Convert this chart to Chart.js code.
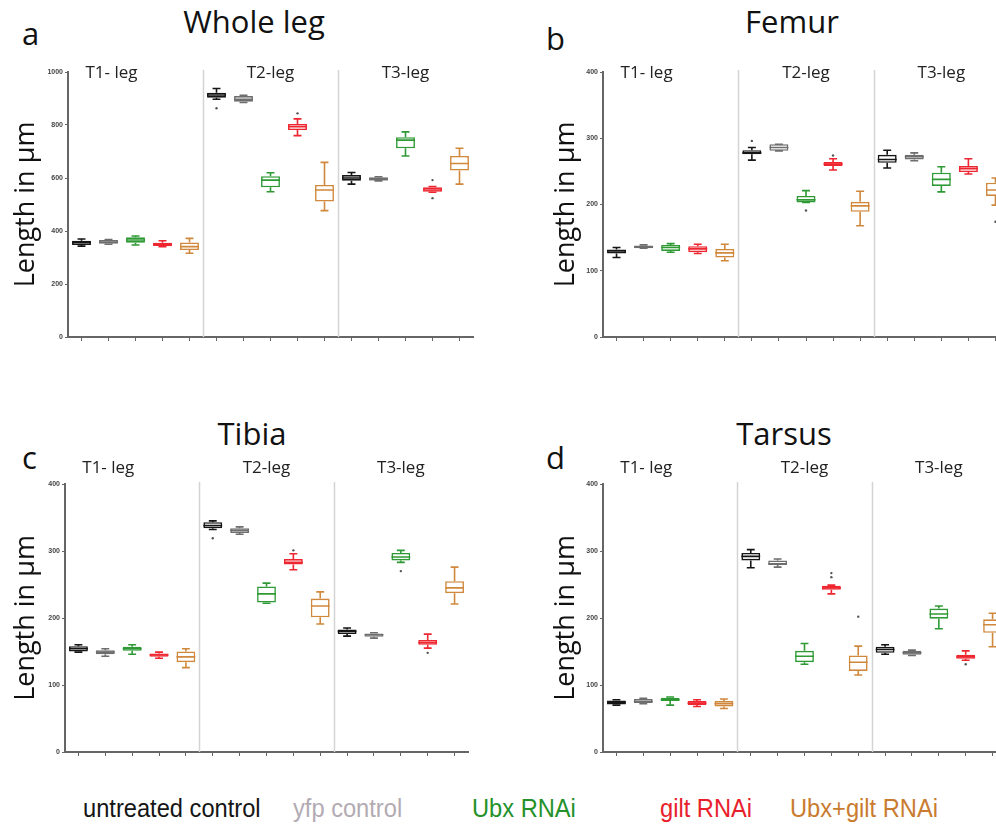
<!DOCTYPE html>
<html>
<head>
<meta charset="utf-8">
<script src="https://cdn.jsdelivr.net/npm/chart.js@4.4.1/dist/chart.umd.min.js"></script>
<style>
  html, body { margin: 0; padding: 0; background: #fff; }
  body { width: 996px; height: 825px; overflow: hidden; position: relative; font-family: "Open Sans", sans-serif; }
  canvas { position: absolute; }
  .title { position: absolute; font-size: 31px; line-height: 31px; color: #111; white-space: nowrap; transform: translateX(-50%); }
  .letter { position: absolute; font-size: 31px; line-height: 31px; color: #111; }
  .legend { position: absolute; top: 793px; font-family: "Liberation Sans", sans-serif; font-size: 26px; line-height: 30px; white-space: nowrap; transform: scaleX(0.91); transform-origin: left center; }
</style>
</head>
<body>
<div class="letter" style="left:22px;top:18px">a</div>
<div class="title" style="left:254px;top:6px">Whole leg</div>
<div class="letter" style="left:546px;top:23px">b</div>
<div class="title" style="left:792px;top:6px">Femur</div>
<div class="letter" style="left:22px;top:442px">c</div>
<div class="title" style="left:252px;top:418px">Tibia</div>
<div class="letter" style="left:546px;top:442px">d</div>
<div class="title" style="left:784px;top:418px">Tarsus</div>

<canvas id="wholeChart" width="490" height="325" style="left:0px;top:32px"></canvas>
<canvas id="femurChart" width="486" height="325" style="left:540px;top:32px"></canvas>
<canvas id="tibiaChart" width="485" height="328" style="left:0px;top:444px"></canvas>
<canvas id="tarsusChart" width="483" height="328" style="left:540px;top:444px"></canvas>

<div class="legend" style="left:83px;color:#151515">untreated control</div>
<div class="legend" style="left:293px;color:#b3abb3">yfp control</div>
<div class="legend" style="left:472px;color:#24912a">Ubx RNAi</div>
<div class="legend" style="left:660px;color:#e8202c">gilt RNAi</div>
<div class="legend" style="left:790px;color:#c97b30">Ubx+gilt RNAi</div>

<script>
// categories
const legs = ["T1- leg", "T2-leg", "T3-leg"];
const conditions = ["untreated control", "yfp control", "Ubx RNAi", "gilt RNAi", "Ubx+gilt RNAi"];
const conditionColors = ["#151515", "#6e6e6e", "#2f9a35", "#ee2630", "#d0883c"];

// each row: [min, q1, median, q3, max], order T1 x5, T2 x5, T3 x5
const wholeBoxes = [
  [343, 347, 356, 363, 370], [350, 352, 358, 366, 368], [347, 356, 366, 376, 381], [341, 343, 350, 356, 363], [316, 328, 341, 357, 372],
  [897, 903, 913, 922, 938], [885, 888, 897, 909, 912], [548, 565, 592, 607, 620], [760, 781, 794, 804, 823], [477, 511, 555, 574, 659],
  [577, 590, 600, 611, 621], [589, 591, 595, 603, 605], [683, 712, 743, 754, 774], [546, 548, 555, 565, 568], [577, 628, 655, 683, 712]
];
const wholeOutliers = [[], [], [], [], [], [863], [], [], [844], [], [], [], [], [592, 524], []];

const femurBoxes = [
  [120, 126, 130, 132, 135], [134, 134, 136, 138, 139], [128, 130, 135, 139, 141], [126, 128, 133, 137, 140], [115, 120, 127, 133, 140],
  [267, 276, 278, 282, 286], [281, 281, 286, 291, 291], [203, 203, 207, 213, 221], [252, 258, 261, 264, 269], [168, 189, 198, 204, 220],
  [255, 263, 268, 275, 282], [266, 268, 272, 275, 278], [219, 228, 238, 248, 257], [246, 249, 254, 258, 269], [199, 213, 222, 233, 240]
];
const femurOutliers = [[], [], [], [], [], [296], [], [191], [274], [], [], [], [], [], [174]];

const tibiaBoxes = [
  [149, 150, 154, 158, 160], [143, 146, 149, 152, 154], [146, 151, 154, 157, 160], [140, 142, 145, 147, 149], [126, 134, 142, 150, 154],
  [332, 334, 338, 343, 345], [325, 327, 331, 334, 336], [222, 223, 236, 247, 252], [272, 280, 283, 288, 296], [191, 201, 218, 229, 239],
  [173, 176, 180, 183, 185], [170, 172, 175, 177, 178], [283, 286, 291, 297, 301], [155, 160, 163, 167, 176], [221, 237, 245, 255, 276]
];
const tibiaOutliers = [[], [], [], [], [], [319], [], [], [301], [], [], [], [270], [148], []];

const tarsusBoxes = [
  [70, 71, 74, 77, 78], [72, 73, 75, 79, 80], [70, 76, 78, 81, 82], [68, 70, 73, 76, 78], [65, 68, 72, 76, 79],
  [275, 286, 292, 297, 302], [276, 279, 281, 286, 288], [131, 134, 143, 151, 162], [236, 242, 245, 248, 249], [115, 121, 134, 144, 158],
  [146, 148, 153, 157, 160], [144, 145, 148, 151, 152], [184, 199, 206, 214, 218], [137, 139, 142, 145, 151], [157, 178, 190, 198, 207]
];
const tarsusOutliers = [[], [], [], [], [], [], [], [], [261, 267], [202], [], [], [], [131], []];

// one label per box
const boxLabels = [];
legs.forEach(leg => conditions.forEach(c => boxLabels.push(leg + " " + c)));

// whiskers, medians, outliers, leg dividers and leg names
const boxExtras = {
  id: "boxExtras",
  beforeDatasetsDraw(chart, args, opts) {
    const { ctx, chartArea, scales: { x } } = chart;
    ctx.save();
    ctx.strokeStyle = "#d4d4d4";
    ctx.lineWidth = 1.5;
    [4, 9].forEach(i => {
      const xp = Math.round((x.getPixelForValue(i) + x.getPixelForValue(i + 1)) / 2) + 0.5;
      ctx.beginPath();
      ctx.moveTo(xp, chartArea.top - 2);
      ctx.lineTo(xp, chartArea.bottom);
      ctx.stroke();
    });
    ctx.restore();
  },
  afterDatasetsDraw(chart, args, opts) {
    const { ctx, chartArea, scales: { x, y } } = chart;
    const meta = chart.getDatasetMeta(0);
    ctx.save();
    opts.boxes.forEach((b, i) => {
      const color = conditionColors[i % 5];
      const xp = x.getPixelForValue(i);
      const w = meta.data[i].width;
      const cap = w * 0.42;
      ctx.strokeStyle = color;
      ctx.lineWidth = 1.6;
      ctx.beginPath();
      // whiskers
      ctx.moveTo(xp, y.getPixelForValue(b[3]));
      ctx.lineTo(xp, y.getPixelForValue(b[4]));
      ctx.moveTo(xp, y.getPixelForValue(b[1]));
      ctx.lineTo(xp, y.getPixelForValue(b[0]));
      // caps
      ctx.moveTo(xp - cap / 2, y.getPixelForValue(b[4]));
      ctx.lineTo(xp + cap / 2, y.getPixelForValue(b[4]));
      ctx.moveTo(xp - cap / 2, y.getPixelForValue(b[0]));
      ctx.lineTo(xp + cap / 2, y.getPixelForValue(b[0]));
      // median
      ctx.moveTo(xp - w / 2, y.getPixelForValue(b[2]));
      ctx.lineTo(xp + w / 2, y.getPixelForValue(b[2]));
      ctx.stroke();
      // outliers
      ctx.fillStyle = "#555";
      opts.outliers[i].forEach(v => {
        ctx.beginPath();
        ctx.arc(xp, y.getPixelForValue(v), 1.2, 0, Math.PI * 2);
        ctx.fill();
      });
    });
    // leg names
    ctx.fillStyle = "#222";
    ctx.font = "17px 'Open Sans'";
    ctx.textAlign = "center";
    ctx.textBaseline = "middle";
    [1, 7, 12].forEach((idx, k) => {
      ctx.fillText(legs[k], x.getPixelForValue(idx) + (k === 0 ? 3 : 0), chartArea.top + opts.labelOffset);
    });
    ctx.restore();
  }
};

function makePanel(id, boxes, outliers, yMax, yStep, yWidth, labelOffset) {
  const ctx = document.getElementById(id).getContext("2d");
  return new Chart(ctx, {
    type: "bar",
    data: {
      labels: boxLabels,
      datasets: [{
        data: boxes.map(b => [b[1], b[3]]),
        backgroundColor: "rgba(255,255,255,0.9)",
        borderColor: boxes.map((b, i) => conditionColors[i % 5]),
        borderWidth: 1.6,
        borderSkipped: false,
        barPercentage: 0.7,
        categoryPercentage: 1
      }]
    },
    options: {
      responsive: false,
      animation: false,
      layout: { padding: { top: 40, bottom: 10, left: 0, right: 17 } },
      plugins: {
        legend: { display: false },
        tooltip: { enabled: false },
        boxExtras: { boxes, outliers, labelOffset }
      },
      scales: {
        x: {
          type: "category",
          offset: true,
          afterFit: s => { s.height = 10; },
          ticks: { display: false },
          grid: { offset: false, drawOnChartArea: false, drawTicks: true, tickLength: 4, color: "#666" },
          border: { color: "#666", width: 2 }
        },
        y: {
          min: 0,
          max: yMax,
          afterFit: s => { s.width = yWidth; },
          ticks: { stepSize: yStep, color: "#444", padding: 2, font: { size: 7, weight: "bold" }, callback: v => String(v) },
          grid: { drawOnChartArea: false, drawTicks: true, tickLength: 3, color: "#666" },
          border: { color: "#666", width: 2 },
          title: {
            display: true,
            text: "Length in µm",
            color: "#111",
            font: { size: 27, family: "'Open Sans'" },
            padding: { top: 10, bottom: 0 }
          }
        }
      }
    },
    plugins: [boxExtras]
  });
}

makePanel("wholeChart", wholeBoxes, wholeOutliers, 1000, 200, 68, 1);
makePanel("femurChart", femurBoxes, femurOutliers, 400, 100, 63, 1);
makePanel("tibiaChart", tibiaBoxes, tibiaOutliers, 400, 100, 65, -16);
makePanel("tarsusChart", tarsusBoxes, tarsusOutliers, 400, 100, 63, -16);
</script>
</body>
</html>
